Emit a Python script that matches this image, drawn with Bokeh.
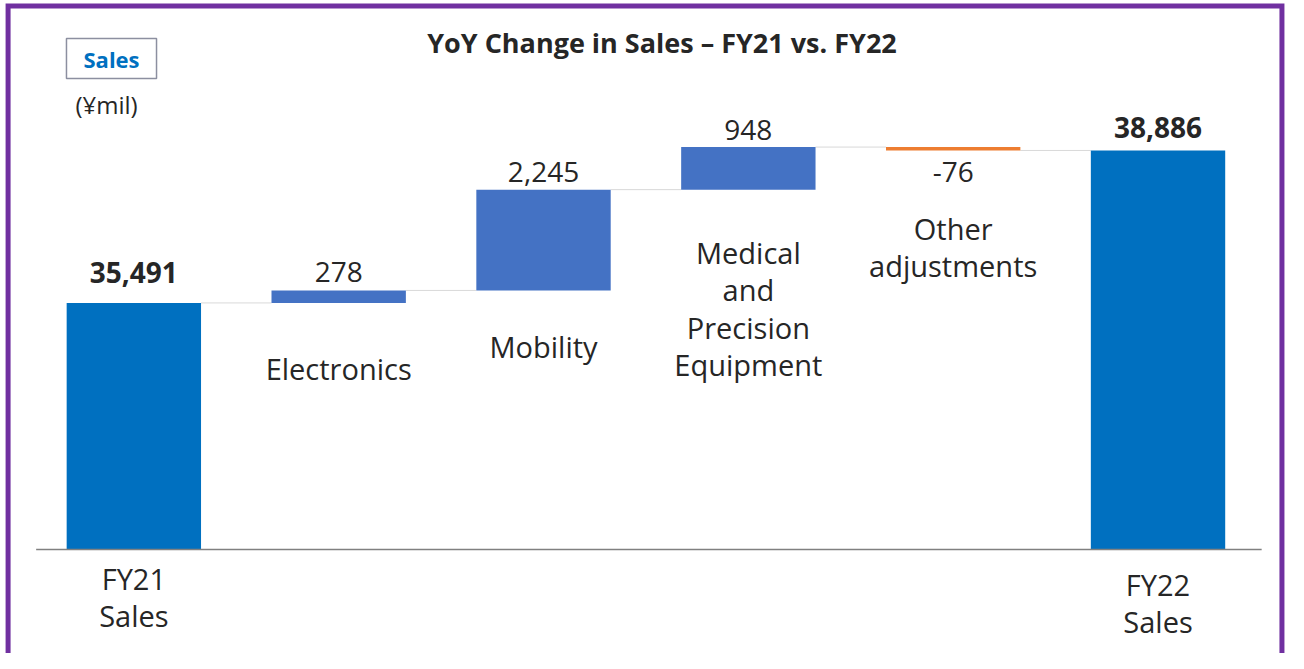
from bokeh.plotting import figure
from bokeh.models import ColumnDataSource, Range1d, Label
from bokeh.core.properties import value
from bokeh.embed import file_html
from bokeh.resources import INLINE

# ---------------- data ----------------
categories = ["FY21\nSales", "Electronics", "Mobility",
              "Medical\nand\nPrecision\nEquipment", "Other\nadjustments", "FY22\nSales"]
bar_kinds = ["total", "change", "change", "change", "change", "total"]
amounts = [35491, 278, 2245, 948, -76, 38886]
value_texts = ["35,491", "278", "2,245", "948", "-76", "38,886"]
axis_floor = 30000
chart_title = "YoY Change in Sales \u2013 FY21 vs. FY22"
badge_text = "Sales"
unit_text = "(\u00a5mil)"

# ---------------- layout / style ----------------
W, H = 1288, 653
FONT = "Open Sans"
TXT = "#262626"
C_TOTAL, C_UP, C_DOWN = "#0070C0", "#4472C4", "#ED7D31"
BAR_W = 0.656
X0, X1 = -0.651, 5.637
Y0, Y1 = 27684, 42226
value_offsets = [-30, -18.5, -17.5, -17.5, 21.5, -22.5]   # px from bar edge
cat_first_line = [30.7, 67.3, 57.6, 64.4, 80.0, 36.6]      # px below bar lower edge / axis
LINE_PX = 37.6
CAT_SIZE = 29
METRIC = 1.351  # font line box / font size

# ---------------- waterfall geometry ----------------
bottoms, tops, colors = [], [], []
running = 0
for kind, amt in zip(bar_kinds, amounts):
    if kind == "total":
        b, t = axis_floor, amt
        running = amt
        colors.append(C_TOTAL)
    else:
        b, t = running, running + amt
        running = t
        colors.append(C_UP if amt >= 0 else C_DOWN)
    bottoms.append(b)
    tops.append(t)
xs = list(range(len(categories)))

p = figure(width=W, height=H, x_range=Range1d(X0, X1), y_range=Range1d(Y0, Y1),
           output_backend="svg", toolbar_location=None, min_border=0)
p.axis.visible = False
p.grid.visible = False
p.outline_line_color = None
p.background_fill_color = "white"
p.border_fill_color = "white"

# connectors between consecutive bars at the running total
cx0 = [x + BAR_W / 2 for x in xs[:-1]]
cx1 = [x + 1 - BAR_W / 2 for x in xs[:-1]]
cy = tops[:-1]
p.segment(x0=cx0, y0=cy, x1=cx1, y1=cy, line_color="#D9D9D9", line_width=1)

# bars
src = ColumnDataSource(dict(x=xs, bottom=bottoms, top=tops, color=colors))
p.vbar(x="x", width=BAR_W, bottom="bottom", top="top", fill_color="color",
       line_color=None, source=src)

# category axis line
p.segment(x0=[xs[0] - 0.477], y0=[axis_floor], x1=[xs[-1] + 0.506], y1=[axis_floor],
          line_color="#808080", line_width=1.5)

# value labels
vy = []
for kind, amt, b, t in zip(bar_kinds, amounts, bottoms, tops):
    vy.append(max(b, t) if (kind == "total" or amt >= 0) else min(b, t))


def subset(want_total):
    sel = [i for i, k in enumerate(bar_kinds) if (k == "total") == want_total]
    return ColumnDataSource(dict(x=[xs[i] for i in sel], y=[vy[i] for i in sel],
                                 text=[value_texts[i] for i in sel],
                                 off=[value_offsets[i] for i in sel]))


p.text(x="x", y="y", text="text", y_offset="off", source=subset(False),
       text_font=value(FONT), text_font_size="28px", text_color=TXT,
       text_align="center", text_baseline="middle")
p.text(x="x", y="y", text="text", y_offset="off", source=subset(True),
       text_font=value(FONT), text_font_size="28px", text_font_style="bold",
       text_color=TXT, text_align="center", text_baseline="middle")

# category labels
cy_anchor, coff = [], []
for kind, b, t, first, cat in zip(bar_kinds, bottoms, tops, cat_first_line, categories):
    lower = axis_floor if kind == "total" else min(b, t)
    n = cat.count("\n") + 1
    cy_anchor.append(lower)
    coff.append(first + (n - 1) * LINE_PX / 2 - 2)
csrc = ColumnDataSource(dict(x=xs, y=cy_anchor, text=categories, off=coff))
p.text(x="x", y="y", text="text", y_offset="off", source=csrc,
       text_font=value(FONT), text_font_size=f"{CAT_SIZE}px", text_color=TXT,
       text_align="center", text_baseline="middle",
       text_line_height=LINE_PX / (CAT_SIZE * METRIC))

# title, badge, unit
p.add_layout(Label(x=661.5, y=H - 41.5, x_units="screen", y_units="screen", text=chart_title,
                   text_font=FONT, text_font_size="27px", text_font_style="bold",
                   text_color=TXT, text_align="center", text_baseline="middle"))
p.add_layout(Label(x=111, y=H - 58, x_units="screen", y_units="screen", text=badge_text,
                   text_font=FONT, text_font_size="22px", text_font_style="bold",
                   text_color="#0070C0", text_align="center", text_baseline="middle",
                   border_line_color="#8C8FA0", border_line_width=1.5,
                   background_fill_color="white", padding=(17, 5)))
p.add_layout(Label(x=106, y=H - 103.5, x_units="screen", y_units="screen", text=unit_text,
                   text_font=FONT, text_font_size="24px", text_color=TXT,
                   text_align="center", text_baseline="middle"))

# purple frame around the slide
p.line(x=[-0.614, -0.614, 5.605, 5.605], y=[Y0, 42103, 42103, Y0],
       line_color="#7030A0", line_width=5, line_join="miter")

open("out.html", "w").write(file_html(p, INLINE))
